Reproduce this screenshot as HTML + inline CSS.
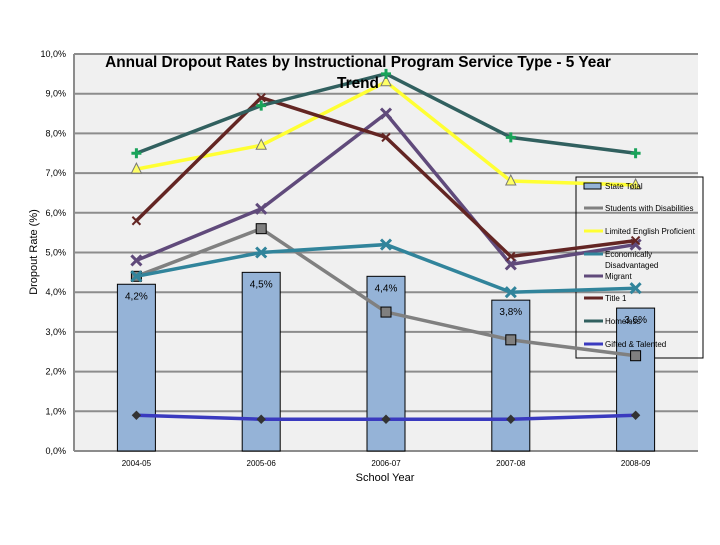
<!DOCTYPE html>
<html><head><meta charset="utf-8"><style>
body{margin:0;background:#fff;font-family:"Liberation Sans",sans-serif}
svg text{font-family:"Liberation Sans",sans-serif}
</style></head><body>
<svg id="c" width="720" height="540"></svg>
<script>
const categories=["2004-05","2005-06","2006-07","2007-08","2008-09"];
const stateTotal=[4.2,4.5,4.4,3.8,3.6];
const stateLabels=["4,2%","4,5%","4,4%","3,8%","3,6%"];
const swd=[4.4,5.6,3.5,2.8,2.4];
const lep=[7.1,7.7,9.3,6.8,6.7];
const econ=[4.4,5.0,5.2,4.0,4.1];
const migrant=[4.8,6.1,8.5,4.7,5.2];
const title1=[5.8,8.9,7.9,4.9,5.3];
const homeless=[7.5,8.7,9.5,7.9,7.5];
const gifted=[0.9,0.8,0.8,0.8,0.9];
const yTicks=[0,1,2,3,4,5,6,7,8,9,10];
const yTickLabels=["0,0%","1,0%","2,0%","3,0%","4,0%","5,0%","6,0%","7,0%","8,0%","9,0%","10,0%"];

const NS="http://www.w3.org/2000/svg";
const svg=document.getElementById('c');
const L=74,R=698,T=54,B=451;
const x=i=>L+(R-L)/categories.length*(i+0.5);
const y=v=>B-(B-T)*v/10;
function el(t,a,p){const e=document.createElementNS(NS,t);for(const k in a)e.setAttribute(k,a[k]);(p||svg).appendChild(e);return e;}
let e;
e=el('rect',{x:L,y:T,width:R-L,height:B-T,fill:'#f0f0f0'});


yTicks.forEach((v,i)=>{
 e=el('line',{x1:L,x2:R,y1:y(v),y2:y(v),stroke:'#8c8c8c','stroke-width':2});
 
 
 e=el('text',{x:L-8,y:y(v)+3,'text-anchor':'end','font-size':9,fill:'#000'});e.textContent=yTickLabels[i];
 
 
});
e=el('line',{x1:L,x2:L,y1:T,y2:B,stroke:'#8c8c8c','stroke-width':2});


e=el('rect',{x:576,y:177,width:127,height:181,fill:'none',stroke:'#000','stroke-width':1});


stateTotal.forEach((v,i)=>{
 e=el('rect',{x:x(i)-19,y:y(v),width:38,height:B-y(v),fill:'#95b3d7',stroke:'#000','stroke-width':1});
 
 
 e=el('text',{x:x(i),y:y(v)+15,'text-anchor':'middle','font-size':10});e.textContent=stateLabels[i];
 
 
});
categories.forEach((c,i)=>{
 e=el('text',{x:x(i),y:466,'text-anchor':'middle','font-size':8});e.textContent=c;
 
 
});
function marker(type,cx,cy,col,fill){
 let m;
 if(type==='sq')m=el('rect',{x:cx-5,y:cy-5,width:10,height:10,fill:'#808080',stroke:'#000','stroke-width':1});
 else if(type==='tri')m=el('path',{d:`M${cx},${cy-6}L${cx+5},${cy+4}L${cx-5},${cy+4}Z`,fill:'#ffff66',stroke:'#777','stroke-width':1});
 else if(type==='x')m=el('path',{d:`M${cx-5},${cy-5}L${cx+5},${cy+5}M${cx+5},${cy-5}L${cx-5},${cy+5}`,stroke:col,'stroke-width':3});
 else if(type==='star')m=el('path',{d:`M${cx-5},${cy}L${cx+5},${cy}M${cx},${cy-5}L${cx},${cy+5}`,stroke:fill,'stroke-width':3});
 else if(type==='dia')m=el('path',{d:`M${cx},${cy-4}L${cx+4},${cy}L${cx},${cy+4}L${cx-4},${cy}Z`,fill:'#333',stroke:'#333'});
 else m=el('path',{d:`M${cx-4},${cy-4}L${cx+4},${cy+4}M${cx+4},${cy-4}L${cx-4},${cy+4}`,stroke:col,'stroke-width':2});
 return m;
}
const series=[
 {d:swd,c:'#808080',m:'sq',n:'line-students-with-disabilities'},
 {d:lep,c:'#ffff33',m:'tri',n:'line-limited-english'},
 {d:econ,c:'#31849b',m:'x',n:'line-economically-disadvantaged'},
 {d:migrant,c:'#604a7b',m:'x',n:'line-migrant'},
 {d:title1,c:'#632523',m:'t',n:'line-title-1'},
 {d:homeless,c:'#31605f',m:'star',f:'#1aa35a',n:'line-homeless'},
 {d:gifted,c:'#3a3abf',m:'dia',n:'line-gifted-talented'}
];
series.forEach(s=>{
 e=el('polyline',{points:s.d.map((v,i)=>x(i)+','+y(v)).join(' '),fill:'none',stroke:s.c,'stroke-width':3.5});
 
 
 s.d.forEach((v,i)=>{
  e=marker(s.m,x(i),y(v),s.c,s.f);
  
  
 });
});
e=el('rect',{x:584,y:183,width:17,height:6,fill:'#95b3d7',stroke:'#000'});


const legT=[['State Total',186],['Students with Disabilities',208],['Limited English Proficient',231],['Economically',254],['Disadvantaged',265],['Migrant',276],['Title 1',298],['Homeless',321],['Gifted & Talented',344]];
legT.forEach(t=>{
 e=el('text',{x:605,y:t[1]+3,'font-size':8});e.textContent=t[0];
 
 
});
const legLY=[208,231,254,276,298,321,344];
series.forEach((s,i)=>{
 e=el('line',{x1:584,x2:603,y1:legLY[i],y2:legLY[i],stroke:s.c,'stroke-width':3});
 
 
});
e=el('text',{x:358,y:67,'text-anchor':'middle','font-size':15.4,'font-weight':'bold'});e.textContent='Annual Dropout Rates by Instructional Program Service Type - 5 Year';


e=el('text',{x:358,y:88,'text-anchor':'middle','font-size':15.4,'font-weight':'bold'});e.textContent='Trend';


e=el('text',{x:385,y:481,'text-anchor':'middle','font-size':11});e.textContent='School Year';


e=el('text',{x:0,y:0,'text-anchor':'middle','font-size':11,transform:'translate(37,252) rotate(-90)'});e.textContent='Dropout Rate (%)';


</script>
</body></html>
